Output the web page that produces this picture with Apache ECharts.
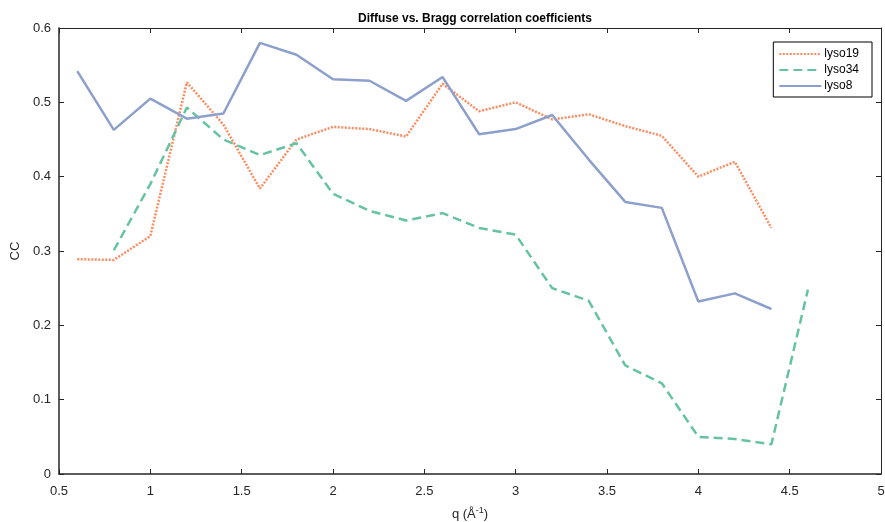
<!DOCTYPE html>
<html>
<head>
<meta charset="utf-8">
<script src="https://cdn.jsdelivr.net/npm/echarts@6/dist/echarts.min.js"></script>
<style>html,body{margin:0;padding:0;background:#fff;}#c{width:885px;height:522px;}</style>
</head>
<body>
<div id="c"></div>
<script>
const qA = [0.6,0.8,1.0,1.2,1.4,1.6,1.8,2.0,2.2,2.4,2.6,2.8,3.0,3.2,3.4,3.6,3.8,4.0,4.2,4.4];
const qB = [0.8,1.0,1.2,1.4,1.6,1.8,2.0,2.2,2.4,2.6,2.8,3.0,3.2,3.4,3.6,3.8,4.0,4.2,4.4,4.6];
const lyso19 = [0.289,0.288,0.320,0.527,0.470,0.384,0.450,0.467,0.464,0.454,0.525,0.488,0.500,0.477,0.484,0.468,0.455,0.400,0.420,0.331];
const lyso34 = [0.301,0.390,0.493,0.450,0.429,0.445,0.377,0.354,0.341,0.351,0.331,0.322,0.250,0.233,0.146,0.122,0.050,0.047,0.040,0.248];
const lyso8 = [0.542,0.463,0.505,0.478,0.485,0.580,0.564,0.531,0.529,0.502,0.534,0.457,0.464,0.483,0.423,0.366,0.358,0.232,0.243,0.222];
const xTicks = {min:0.5, max:5, interval:0.5};
const yTicks = {min:0, max:0.6, interval:0.1};

const pairs = (xs, ys) => xs.map((x,i)=>[x, ys[i]]);
const FONT = 'Liberation Sans';
const axisCommon = {
  axisLine:{show:true, onZero:false, lineStyle:{color:'#262626', width:1.5}},
  axisTick:{show:true, inside:true, length:5, lineStyle:{color:'#262626', width:1}},
  splitLine:{show:false}
};
const chart = echarts.init(document.getElementById('c'), null, {renderer:'canvas'});
chart.setOption({
  animation:false,
  backgroundColor:'#fff',
  textStyle:{fontFamily:FONT},
  title:{text:'Diffuse vs. Bragg correlation coefficients', left:470, textAlign:'center', top:8,
    textStyle:{fontFamily:FONT, fontSize:12, fontWeight:'bold', color:'#000'}},
  grid:{left:59, right:4, top:28, bottom:48, containLabel:false, outerBoundsMode:'none'},
  legend:{
    right:13, top:42, orient:'vertical', itemWidth:42, itemHeight:10, itemGap:4,
    padding:[6,13,5,5], borderColor:'#000', borderWidth:1, backgroundColor:'#fff',
    itemStyle:{opacity:0},
    textStyle:{fontFamily:FONT, fontSize:12, color:'#000', padding:[0,0,0,-2]},
    data:['lyso19','lyso34','lyso8']
  },
  xAxis:[
    Object.assign({type:'value', position:'bottom', min:xTicks.min, max:xTicks.max, interval:xTicks.interval,
      axisLabel:{fontFamily:FONT, fontSize:13, color:'#262626', margin:11},
      name:'{a|q (Å}{s|-1}{a|)}', nameLocation:'middle', nameGap:32,
      nameTextStyle:{rich:{a:{fontFamily:FONT, fontSize:13, color:'#262626'}, s:{fontFamily:FONT, fontSize:9, color:'#262626', verticalAlign:'top', padding:[0,0,8,0]}}}
    }, axisCommon),
    Object.assign({type:'value', position:'top', min:xTicks.min, max:xTicks.max, interval:xTicks.interval,
      axisLabel:{show:false}}, axisCommon, {axisLine:{show:true, onZero:false, lineStyle:{color:'#262626', width:1}}})
  ],
  yAxis:[
    Object.assign({type:'value', position:'left', min:yTicks.min, max:yTicks.max, interval:yTicks.interval,
      axisLabel:{fontFamily:FONT, fontSize:13, color:'#262626', margin:8},
      name:'CC', nameLocation:'middle', nameGap:37, nameRotate:90,
      nameTextStyle:{fontFamily:FONT, fontSize:13, color:'#262626'}
    }, axisCommon),
    Object.assign({type:'value', position:'right', min:yTicks.min, max:yTicks.max, interval:yTicks.interval,
      axisLabel:{show:false}}, axisCommon, {axisLine:{show:true, onZero:false, lineStyle:{color:'#262626', width:1}}})
  ],
  series:[
    {name:'lyso19', type:'line', data:pairs(qA, lyso19), symbol:'none', color:'#fc8d62',
      lineStyle:{color:'#fc8d62', width:2.5, type:[2,1.5]}},
    {name:'lyso34', type:'line', data:pairs(qB, lyso34), symbol:'none', color:'#66c2a5',
      lineStyle:{color:'#66c2a5', width:2.5, type:[9,5]}},
    {name:'lyso8', type:'line', data:pairs(qA, lyso8), symbol:'none', color:'#8da0cb',
      lineStyle:{color:'#8da0cb', width:2.5, type:'solid'}}
  ]
});
</script>
</body>
</html>
